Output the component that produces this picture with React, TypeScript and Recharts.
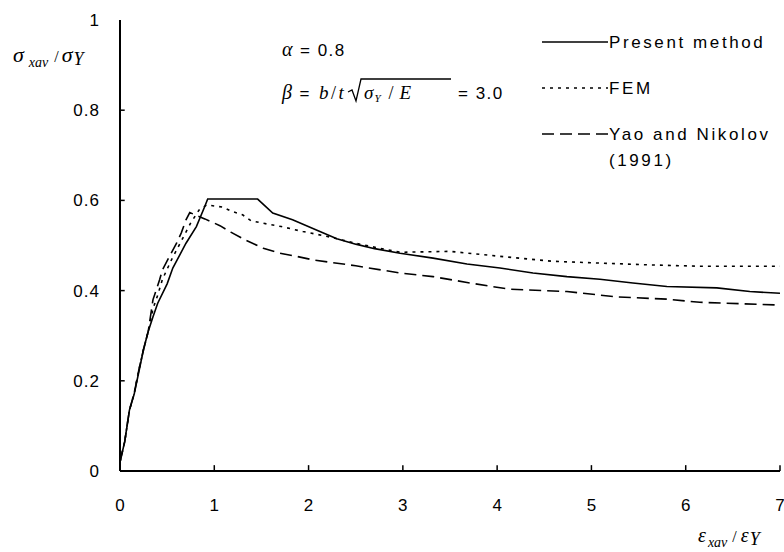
import { LineChart, Line, XAxis, YAxis, ReferenceLine } from 'recharts';

/* ------------------------------------------------------------------ */
/*  Data                                      */
/* ------------------------------------------------------------------ */

const X_TICKS = [0, 1, 2, 3, 4, 5, 6, 7];
const Y_TICKS = [0, 0.2, 0.4, 0.6, 0.8, 1];

const SERIES_NAMES = ['Present method', 'FEM', 'Yao and Nikolov'];

// Present method
const PRESENT_STRAIN = [0, 0.05, 0.1, 0.15, 0.2, 0.25, 0.3, 0.35, 0.4, 0.5, 0.56, 0.7, 0.81, 0.9, 0.93, 1.46, 1.62, 1.83, 2.12, 2.3, 2.5, 2.7, 2.97, 3.32, 3.68, 4.03, 4.38, 4.74, 5.09, 5.44, 5.8, 6.33, 6.68, 7];
const PRESENT_STRESS = [0.02, 0.065, 0.135, 0.17, 0.22, 0.27, 0.31, 0.342, 0.372, 0.415, 0.45, 0.505, 0.542, 0.587, 0.603, 0.603, 0.572, 0.557, 0.531, 0.515, 0.503, 0.493, 0.483, 0.472, 0.459, 0.45, 0.439, 0.431, 0.425, 0.417, 0.409, 0.406, 0.398, 0.394];

// FEM
const FEM_STRAIN = [0, 0.05, 0.1, 0.15, 0.2, 0.25, 0.3, 0.35, 0.4, 0.45, 0.55, 0.65, 0.75, 0.84, 0.92, 1.09, 1.18, 1.3, 1.39, 1.5, 1.71, 1.94, 2.2, 2.5, 2.75, 2.97, 3.5, 4.03, 4.59, 5.09, 5.62, 6.15, 7];
const FEM_STRESS = [0.02, 0.065, 0.135, 0.172, 0.224, 0.27, 0.31, 0.36, 0.39, 0.425, 0.47, 0.51, 0.55, 0.579, 0.59, 0.585, 0.576, 0.568, 0.555, 0.55, 0.542, 0.531, 0.52, 0.505, 0.494, 0.485, 0.487, 0.476, 0.465, 0.461, 0.457, 0.454, 0.454];

// Yao and Nikolov (1991)
const YAO_STRAIN = [0, 0.05, 0.1, 0.15, 0.2, 0.25, 0.3, 0.35, 0.42, 0.45, 0.525, 0.6, 0.65, 0.7, 0.74, 0.9, 0.985, 1.06, 1.18, 1.34, 1.52, 1.69, 1.87, 2.05, 2.5, 2.97, 3.32, 3.68, 4.13, 4.74, 5.27, 5.8, 6.15, 7];
const YAO_STRESS = [0.02, 0.065, 0.135, 0.172, 0.224, 0.27, 0.31, 0.38, 0.424, 0.446, 0.476, 0.505, 0.528, 0.557, 0.573, 0.559, 0.551, 0.544, 0.529, 0.511, 0.494, 0.483, 0.476, 0.468, 0.455, 0.439, 0.431, 0.418, 0.403, 0.398, 0.386, 0.381, 0.374, 0.368];

const zip = (xs: number[], ys: number[]) => xs.map((x, i) => ({ x, y: ys[i] }));

const presentData = zip(PRESENT_STRAIN, PRESENT_STRESS);
const femData = zip(FEM_STRAIN, FEM_STRESS);
const yaoData = zip(YAO_STRAIN, YAO_STRESS);

/* ------------------------------------------------------------------ */
/*  Styles                                                             */
/* ------------------------------------------------------------------ */

const SANS = '"Liberation Sans", Arial, sans-serif';
const SERIF = '"Liberation Serif", "Times New Roman", serif';
const DASHES = ['', '3 5', '12 6'];

/* ------------------------------------------------------------------ */
/*  Tick labels                                                        */
/* ------------------------------------------------------------------ */

function YTick({ x, y, payload }: any) {
  const v = payload.value;
  return (
    <text x={x} y={y + 6} textAnchor="end" fontFamily={SANS} fontSize={17} letterSpacing={1} fill="#000">
      {v === 0 || v === 1 ? v : v.toFixed(1)}
    </text>
  );
}

function XTick({ x, y, payload }: any) {
  return (
    <text x={x} y={y + 12} textAnchor="middle" fontFamily={SANS} fontSize={17} fill="#000">
      {payload.value}
    </text>
  );
}

/* ------------------------------------------------------------------ */
/*  Component                                                          */
/* ------------------------------------------------------------------ */

export default function App() {
  const legendRows = [42, 88, 134];

  return (
    <div style={{ position: 'absolute', left: 0, top: 0, width: 784, height: 552, background: '#fff' }}>
      <LineChart width={784} height={552} margin={{ top: 20, right: 4, left: 60, bottom: 41 }}>
        <XAxis
          type="number"
          dataKey="x"
          domain={[0, 7]}
          ticks={X_TICKS}
          height={40}
          axisLine={{ stroke: '#000', strokeWidth: 2 }}
          tickLine={false}
          tickSize={0}
          tickMargin={28}
          tick={<XTick />}
          allowDataOverflow
        />
        <YAxis
          type="number"
          dataKey="y"
          domain={[0, 1]}
          ticks={Y_TICKS}
          width={60}
          axisLine={{ stroke: '#000', strokeWidth: 2 }}
          tickLine={false}
          tickSize={0}
          tickMargin={20}
          tick={<YTick />}
          allowDataOverflow
        />

        {/* inward tick marks */}
        {X_TICKS.filter((t) => t > 0).map((t) => (
          <ReferenceLine
            key={`xt${t}`}
            segment={[{ x: t, y: 0 }, { x: t, y: 0.013 }]}
            stroke="#000"
            strokeWidth={1.5}
            ifOverflow="visible"
          />
        ))}
        {Y_TICKS.filter((t) => t > 0 && t < 1).map((t) => (
          <ReferenceLine
            key={`yt${t}`}
            segment={[{ x: 0, y: t }, { x: 0.05, y: t }]}
            stroke="#000"
            strokeWidth={1.5}
            ifOverflow="visible"
          />
        ))}

        <Line data={presentData} dataKey="y" name={SERIES_NAMES[0]} type="linear" stroke="#000" strokeWidth={1.6} dot={false} isAnimationActive={false} />
        <Line data={femData} dataKey="y" name={SERIES_NAMES[1]} type="linear" stroke="#000" strokeWidth={1.6} strokeDasharray={DASHES[1]} dot={false} isAnimationActive={false} />
        <Line data={yaoData} dataKey="y" name={SERIES_NAMES[2]} type="linear" stroke="#000" strokeWidth={1.6} strokeDasharray={DASHES[2]} dot={false} isAnimationActive={false} />
      </LineChart>

      {/* legend, axis titles and annotation */}
      <svg width={784} height={552} style={{ position: 'absolute', left: 0, top: 0, pointerEvents: 'none' }}>
        {SERIES_NAMES.map((name, i) => (
          <g key={name}>
            <line
              x1={542}
              x2={608}
              y1={legendRows[i]}
              y2={legendRows[i]}
              stroke="#000"
              strokeWidth={1.5}
              strokeDasharray={DASHES[i] || undefined}
            />
            <text x={609} y={legendRows[i] + 6} fontFamily={SANS} fontSize={17} letterSpacing={2.6} fill="#000">
              {name}
            </text>
          </g>
        ))}
        <text x={609} y={166} fontFamily={SANS} fontSize={17} letterSpacing={2.6} fill="#000">
          (1991)
        </text>

        <text x={13} y={62} fontFamily={SERIF} fontStyle="italic" fontSize={22} fill="#000">
          σ
          <tspan dx={5} dy={5} fontSize={14}>xav</tspan>
          <tspan dx={6} dy={-5} fontSize={16} fontStyle="normal">/</tspan>
          <tspan dx={3} fontSize={22}>σ</tspan>
          <tspan dx={1} dy={3} fontSize={18}>Y</tspan>
        </text>

        <text x={698} y={542} fontFamily={SERIF} fontStyle="italic" fontSize={20} fill="#000">
          ε
          <tspan dx={2} dy={5} fontSize={14}>xav</tspan>
          <tspan dx={5} dy={-5} fontSize={16} fontStyle="normal">/</tspan>
          <tspan dx={4} fontSize={20}>ε</tspan>
          <tspan dx={1} dy={3} fontSize={18}>Y</tspan>
        </text>

        <text x={282} y={56} fontFamily={SANS} fontSize={17} letterSpacing={1.5} fill="#000">
          <tspan fontFamily={SERIF} fontStyle="italic" fontSize={20}>α</tspan>
          <tspan dx={6}>= 0.8</tspan>
        </text>

        <text x={282} y={99} fontFamily={SANS} fontSize={17} letterSpacing={1.5} fill="#000">
          <tspan fontFamily={SERIF} fontStyle="italic" fontSize={20}>β</tspan>
          <tspan dx={6}>=</tspan>
          <tspan dx={8} fontFamily={SERIF} fontStyle="italic" fontSize={19}>b</tspan>
          <tspan dx={1} fontFamily={SERIF} fontSize={18}>/</tspan>
          <tspan dx={1} fontFamily={SERIF} fontStyle="italic" fontSize={19}>t</tspan>
        </text>
        {/* square root sign */}
        <path d="M 348 92 L 352 90 L 356 101 L 361 79 L 451 79" stroke="#000" strokeWidth={1.3} fill="none" />
        <text x={364} y={99} fontFamily={SERIF} fontStyle="italic" fontSize={19} fill="#000">
          σ
          <tspan dx={1} dy={3} fontSize={11}>Y</tspan>
          <tspan dx={8} dy={-3} fontStyle="normal" fontSize={18}>/</tspan>
          <tspan dx={6} fontSize={19}>E</tspan>
        </text>
        <text x={458} y={99} fontFamily={SANS} fontSize={17} letterSpacing={1.5} fill="#000">
          = 3.0
        </text>
      </svg>
    </div>
  );
}
